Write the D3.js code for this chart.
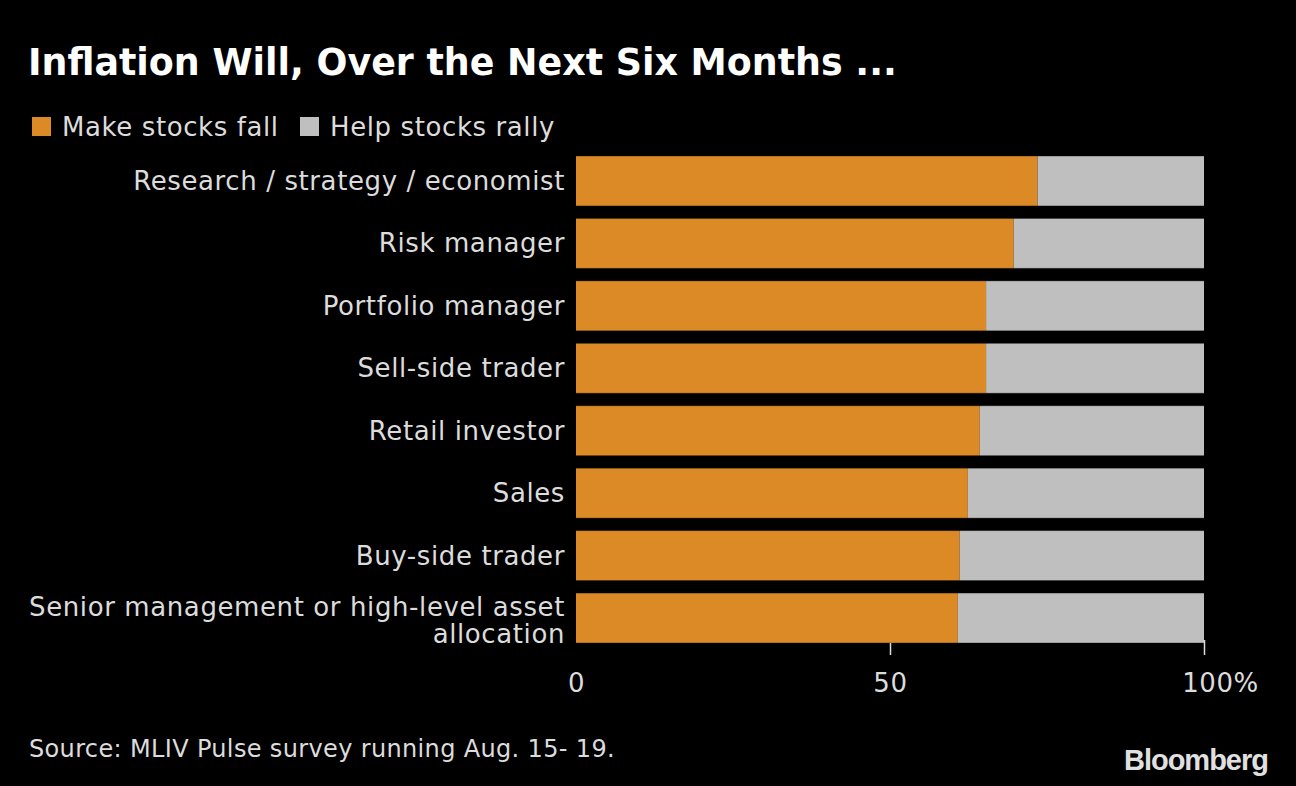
<!DOCTYPE html>
<html lang="en">
<head>
  <meta charset="UTF-8">
  <title>Inflation Will, Over the Next Six Months ...</title>
  <style>
    html, body { margin: 0; padding: 0; background: #000; }
    svg { display: block; }
    .label { font-family: "DejaVu Sans", sans-serif; fill: #dcdcdc; letter-spacing: 0.6px; }
  </style>
</head>
<body>
  <svg id="chart" width="1296" height="786"></svg>

  <script src="https://cdn.jsdelivr.net/npm/d3@7"></script>
  <script>
    // values (percent saying inflation will make stocks fall)
    const categories = [
      "Research / strategy / economist",
      "Risk manager",
      "Portfolio manager",
      "Sell-side trader",
      "Retail investor",
      "Sales",
      "Buy-side trader",
      "Senior management or high-level asset allocation"
    ];
    const fallValues = [73.5, 69.7, 65.3, 65.3, 64.3, 62.4, 61.1, 60.8];
    const rallyValues = fallValues.map(v => 100 - v);
    const seriesNames = ["Make stocks fall", "Help stocks rally"];
    const seriesColors = ["#dc8a26", "#bfbfbf"];
    const tickValues = [0, 50, 100];

    const svg = d3.select("#chart");
    const width = 1296, height = 786;

    svg.append("rect").attr("width", width).attr("height", height).attr("fill", "#000");

    const x = d3.scaleLinear().domain([0, 100]).range([576, 1204]);
    const y = d3.scaleBand().domain(categories).range([156, 643]).paddingInner(0.2).paddingOuter(0);

    // title
    svg.append("text")
      .attr("x", 28).attr("y", 75)
      .attr("font-family", "'DejaVu Sans', sans-serif")
      .attr("font-weight", "bold")
      .attr("font-size", 36.4)
      .attr("fill", "#fff")
      .text("Inflation Will, Over the Next Six Months ...");

    // legend
    const legendX = [32, 300];
    seriesNames.forEach((name, i) => {
      svg.append("rect")
        .attr("x", legendX[i]).attr("y", 117)
        .attr("width", 19).attr("height", 19)
        .attr("fill", seriesColors[i]);
      svg.append("text")
        .attr("class", "label")
        .attr("x", legendX[i] + 30).attr("y", 136)
        .attr("font-size", 26)
        .text(name);
    });

    // stacked bars
    const rows = categories.map((c, i) => ({ cat: c, fall: fallValues[i], rally: rallyValues[i] }));
    const stack = d3.stack().keys(["fall", "rally"])(rows);

    svg.append("g").selectAll("g")
      .data(stack)
      .join("g")
        .attr("fill", (d, i) => seriesColors[i])
      .selectAll("rect")
      .data(d => d)
      .join("rect")
        .attr("x", d => x(d[0]))
        .attr("y", d => y(d.data.cat))
        .attr("width", d => x(d[1]) - x(d[0]))
        .attr("height", y.bandwidth());

    // thin edge lines on top/bottom of bars
    svg.append("g").selectAll("line")
      .data(categories.flatMap(c => [y(c), y(c) + y.bandwidth()]))
      .join("line")
        .attr("x1", x(0)).attr("x2", x(100))
        .attr("y1", d => d).attr("y2", d => d)
        .attr("stroke", "#000").attr("stroke-opacity", 0.35).attr("stroke-width", 1);

    // category labels (long one wrapped in two lines, one text element)
    const labelLines = {
      "Senior management or high-level asset allocation": ["Senior management or high-level asset", "allocation"]
    };
    const lab = svg.append("g").attr("class", "label").attr("font-size", 26).attr("text-anchor", "end");
    categories.forEach(c => {
      const lines = labelLines[c] || [c];
      const cy = y(c) + y.bandwidth() / 2;
      const lh = 27;
      const t = lab.append("text")
        .attr("x", 565)
        .attr("y", cy + 9 - (lines.length - 1) / 2 * lh + (lines.length > 1 ? 2 : 0));
      lines.forEach((s, j) => {
        t.append("tspan")
          .attr("x", 565)
          .attr("dy", j === 0 ? 0 : lh)
          .text(s);
      });
    });

    // x axis
    const axis = d3.axisBottom(x)
      .tickValues(tickValues)
      .tickSize(12)
      .tickFormat(d => d === 100 ? "100%" : d);
    const ax = svg.append("g")
      .attr("transform", `translate(0,${y.range()[1]})`)
      .call(axis);
    ax.select(".domain").remove();
    ax.selectAll(".tick line").attr("stroke", "#dcdcdc").attr("stroke-width", 1.5)
      .attr("y1", d => d === 100 ? -3 : 0)
      .attr("opacity", d => d === 0 ? 0 : 1);
    ax.selectAll(".tick text")
      .attr("class", "label")
      .attr("font-size", 26)
      .attr("y", 49)
      .attr("dy", 0)
      .attr("fill", "#dcdcdc");
    ax.selectAll(".tick").filter(d => d === 100).select("text").attr("dx", 16);

    // source
    svg.append("text")
      .attr("class", "label")
      .attr("x", 29).attr("y", 757)
      .attr("font-size", 24)
      .style("letter-spacing", "0.35px")
      .text("Source: MLIV Pulse survey running Aug. 15- 19.");

    // logo
    svg.append("text")
      .attr("x", 1268).attr("y", 770)
      .attr("text-anchor", "end")
      .attr("font-family", "'Liberation Sans Narrow', 'Liberation Sans', sans-serif")
      .attr("font-weight", "bold")
      .attr("font-size", 29)
      .attr("letter-spacing", -1)
      .attr("fill", "#e0e0e0")
      .text("Bloomberg");
  </script>
</body>
</html>
